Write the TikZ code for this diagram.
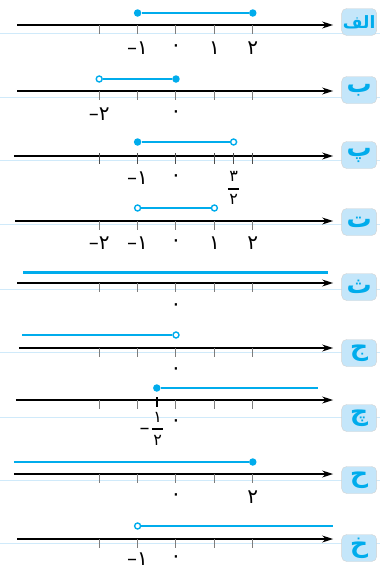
\documentclass[tikz,border=0pt]{standalone}
\usepackage{fontspec}
\usetikzlibrary{arrows.meta}
\TeXXeTstate=1
\newfontfamily\arabicfont[Script=Arabic]{DejaVu Sans}
\newfontfamily\numfont{DejaVu Sans}

\definecolor{segblue}{RGB}{0,172,236}
\definecolor{guideblue}{RGB}{208,234,250}
\definecolor{tabblue}{RGB}{196,230,250}
\definecolor{tickgray}{RGB}{125,125,125}

\tikzset{
  axisline/.style={line width=1.1pt, -{Stealth[length=11pt,width=7pt]}},
  guide/.style={guideblue, line width=1pt},
  tickmark/.style={tickgray, line width=1pt},
  seg/.style={segblue, line width=2pt},
  closeddot/.style={circle, fill=segblue, inner sep=0pt, minimum size=7.5pt},
  opendot/.style={circle, draw=segblue, fill=white, line width=1.4pt, inner sep=0pt, minimum size=6pt},
  tab/.style={fill=tabblue, draw=gray!35, rounded corners=5pt, minimum width=35pt, minimum height=27pt,
    inner sep=0pt, text=segblue, font=\arabicfont\bfseries\fontsize{25}{25}\selectfont},
  num/.style={font=\numfont\fontsize{20}{20}\selectfont, inner sep=0pt},
  fracnum/.style={font=\numfont\fontsize{16}{16}\selectfont, inner sep=0pt},
  fracbar/.style={line width=1.8pt},
}

\begin{document}
\begin{tikzpicture}[x=38.4pt, y=-1pt]
  \useasboundingbox (-4.5833,0) rectangle (5.3125,570);

  % Row alef
  \draw[guide] (-4.59,33) -- (5.32,33);
  \draw[axisline] (-4.14,25) -- (4.09,25);
  \foreach \v in {-2,...,2} \draw[tickmark] (\v,25) -- ++(0,9);
  \node[closeddot] (a1) at (-1,13) {};
  \node[closeddot] (a2) at (2,13) {};
  \draw[seg] (a1) -- (a2);
  \foreach \v/\t in {-1/–۱, 0/۰, 1/۱, 2/۲} \node[num] (an\v) at (\v,48) {\t};
  \node[tab, font=\arabicfont\bfseries\fontsize{17}{17}\selectfont] (ta) at (4.77,22) {\beginR الف\endR};

  % Row be
  \draw[guide] (-4.59,97) -- (5.32,97);
  \draw[axisline] (-4.14,91) -- (4.09,91);
  \foreach \v in {-2,...,2} \draw[tickmark] (\v,91) -- ++(0,9);
  \node[opendot] (b1) at (-2,79) {};
  \node[closeddot] (b2) at (0,79) {};
  \draw[seg] (b1) -- (b2);
  \foreach \v/\t in {-2/–۲, 0/۰} \node[num] (bn\v) at (\v,114) {\t};
  \node[tab] (tb) at (4.77,90) {\beginR ب\endR};

  % Row pe
  \draw[guide] (-4.59,160) -- (5.32,160);
  \draw[axisline] (-4.22,156) -- (4.09,156);
  \foreach \v in {-2,-1,0,1,1.5,2} \draw[tickmark, black!70] (\v,153) -- ++(0,11);
  \node[closeddot] (p1) at (-1,142) {};
  \node[opendot] (p2) at (1.5,142) {};
  \draw[seg] (p1) -- (p2);
  \foreach \v/\t in {-1/–۱, 0/۰} \node[num] (pn\v) at (\v,178) {\t};
  \node[fracnum] (pnum) at (1.5,176) {۳};
  \draw[fracbar] (1.35,189) -- (1.65,189);
  \node[fracnum] (pden) at (1.5,199) {۲};
  \node[tab] (tp) at (4.77,155) {\beginR پ\endR};

  % Row te
  \draw[guide] (-4.59,224) -- (5.32,224);
  \draw[axisline] (-4.19,221) -- (4.09,221);
  \foreach \v in {-2,...,2} \draw[tickmark] (\v,221) -- ++(0,9);
  \node[opendot] (t1) at (-1,208) {};
  \node[opendot] (t2) at (1,208) {};
  \draw[seg] (t1) -- (t2);
  \foreach \v/\t in {-2/–۲, -1/–۱, 0/۰, 1/۱, 2/۲} \node[num] (tn\v) at (\v,243) {\t};
  \node[tab] (tt) at (4.77,222) {\beginR ت\endR};

  % Row se
  \draw[guide] (-4.59,289) -- (5.32,289);
  \draw[axisline] (-4.14,283) -- (4.09,283);
  \foreach \v in {-2,...,2} \draw[tickmark] (\v,283) -- ++(0,9);
  \coordinate (s1) at (-3.98,272);
  \coordinate (s2) at (3.96,272);
  \draw[seg, line width=3pt] (s1) -- (s2);
  \node[num] (sn0) at (0,307) {۰};
  \node[tab] (ts) at (4.77,287) {\beginR ث\endR};

  % Row jim
  \draw[guide] (-4.59,352) -- (5.32,352);
  \draw[axisline] (-4.09,348) -- (4.09,348);
  \foreach \v in {-2,...,2} \draw[tickmark] (\v,348) -- ++(0,9);
  \coordinate (j1) at (-4.01,335);
  \node[opendot] (j2) at (0,335) {};
  \draw[seg] (j1) -- (j2);
  \node[num] (jn0) at (0,371) {۰};
  \node[tab] (tj) at (4.77,353) {\beginR ج\endR};

  % Row che
  \draw[guide] (-4.59,417) -- (5.32,417);
  \draw[axisline] (-4.17,400) -- (4.09,400);
  \foreach \v in {-2,-1,0,1,2} \draw[tickmark] (\v,400) -- ++(0,9);
  \draw[line width=1.5pt] (-0.5,397) -- (-0.5,407);
  \node[closeddot] (c1) at (-0.5,388) {};
  \coordinate (c2) at (3.70,388);
  \draw[seg] (c1) -- (c2);
  \node[num] (cmin) at (-0.82,431) {–};
  \node[fracnum] (cnum) at (-0.48,417) {۱};
  \draw[fracbar] (-0.63,429) -- (-0.33,429);
  \node[fracnum] (cden) at (-0.48,440) {۲};
  \node[num] (cn0) at (0,423) {۰};
  \node[tab] (tc) at (4.77,418) {\beginR چ\endR};

  % Row he
  \draw[guide] (-4.59,480) -- (5.32,480);
  \draw[axisline] (-4.22,474) -- (4.09,474);
  \foreach \v in {-2,...,2} \draw[tickmark] (\v,474) -- ++(0,9);
  \coordinate (h1) at (-4.22,462);
  \node[closeddot] (h2) at (2,462) {};
  \draw[seg] (h1) -- (h2);
  \foreach \v/\t in {0/۰, 2/۲} \node[num] (hn\v) at (\v,497) {\t};
  \node[tab] (th) at (4.77,480) {\beginR ح\endR};

  % Row khe
  \draw[guide] (-4.59,543) -- (5.32,543);
  \draw[axisline] (-4.14,539) -- (4.09,539);
  \foreach \v in {-2,...,2} \draw[tickmark] (\v,539) -- ++(0,9);
  \node[opendot] (k1) at (-1,526) {};
  \coordinate (k2) at (4.09,526);
  \draw[seg] (k1) -- (k2);
  \foreach \v/\t in {-1/–۱, 0/۰} \node[num] (kn\v) at (\v,559) {\t};
  \node[tab] (tk) at (4.77,548) {\beginR خ\endR};

\end{tikzpicture}
\end{document}
